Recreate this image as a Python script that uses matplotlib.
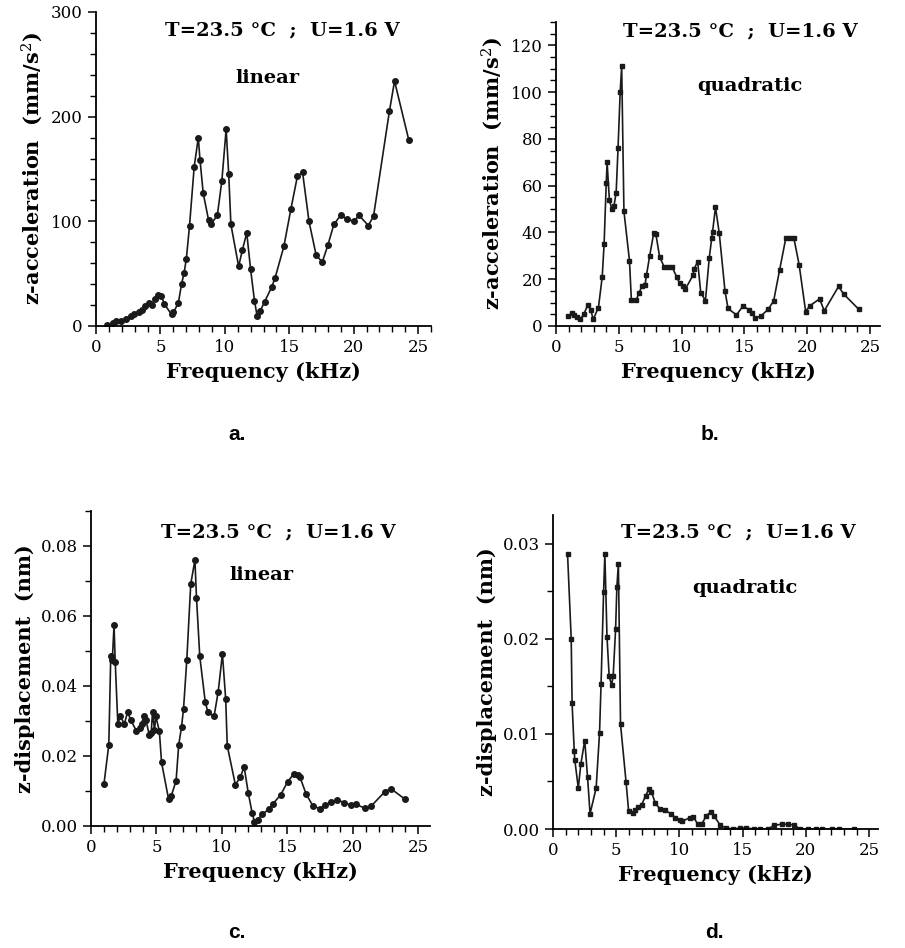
import matplotlib
matplotlib.use("Agg")
import matplotlib.pyplot as plt
from matplotlib.ticker import MultipleLocator

# panel a: z-acceleration, linear
freq_a = [0.85, 1.3, 1.55, 1.93, 2.3, 2.68, 2.93, 3.31, 3.56, 3.81, 4.11, 4.31, 4.56, 4.81, 5.06,
          5.31, 5.86, 6.01, 6.39, 6.64, 6.84, 7.01, 7.26, 7.62, 7.94, 8.07, 8.32, 8.74, 8.92, 9.42,
          9.77, 10.1, 10.3, 10.47, 11.07, 11.37, 11.7, 12.0, 12.3, 12.5, 12.73, 13.08, 13.63, 13.9,
          14.58, 15.13, 15.63, 16.03, 16.53, 17.08, 17.56, 17.99, 18.46, 19.0, 19.5, 20.06, 20.39,
          21.14, 21.54, 22.77, 23.17, 24.27]
acc_lin = [1, 3, 5, 5, 7, 10, 11, 13, 15, 19, 22, 20, 26, 30, 29,
           21, 11, 13, 22, 40, 51, 64, 96, 152, 180, 159, 127, 101, 97, 106,
           139, 188, 145, 97, 57, 73, 89, 54, 24, 10, 14, 23, 37, 46,
           76, 112, 143, 147, 100, 68, 61, 77, 97, 106, 102, 100, 106,
           96, 105, 205, 234, 178]

# panel b: z-acceleration, quadratic
freq_b = [0.99, 1.28, 1.46, 1.65, 1.95, 2.22, 2.52, 2.77, 2.96, 3.38, 3.68, 3.83, 4.0, 4.07, 4.25,
          4.44, 4.62, 4.79, 4.94, 5.11, 5.23, 5.41, 5.85, 6.0, 6.4, 6.6, 6.84, 7.09, 7.2, 7.46,
          7.78, 7.95, 8.25, 8.62, 8.94, 9.26, 9.6, 9.85, 10.1, 10.3, 10.9, 11.0, 11.28, 11.53,
          11.9, 12.2, 12.4, 12.47, 12.7, 13.0, 13.46, 13.7, 14.37, 14.9, 15.36, 15.6, 15.85,
          16.35, 16.9, 17.33, 17.8, 18.3, 18.64, 18.94, 19.36, 19.88, 20.2, 20.99, 21.36, 22.5,
          22.9, 24.1]
acc_quad = [4.4, 5.5, 4.7, 3.7, 3.0, 5.1, 8.9, 6.9, 2.8, 7.9, 21, 35, 61, 70, 54,
            50, 51.5, 57, 76, 100, 111, 49, 28, 11.3, 11.3, 14, 17, 17.6, 21.6, 30,
            39.7, 39.4, 29.6, 25.2, 25.2, 25.2, 21, 18.3, 17.2, 15.8, 21.6, 24.5, 27.5, 14.1,
            10.9, 28.9, 37.6, 40.4, 50.8, 39.7, 14.8, 7.5, 4.7, 8.6, 6.9, 5.5, 3.3,
            4.4, 7.2, 10.7, 23.8, 37.6, 37.6, 37.6, 26.2, 6.2, 8.6, 11.6, 6.5, 16.9,
            13.7, 7.2]

# panel c: z-displacement, linear
freq_c = [0.99, 1.36, 1.51, 1.63, 1.76, 1.85, 2.05, 2.23, 2.55, 2.79, 3.04, 3.46, 3.71, 3.86,
          4.03, 4.2, 4.45, 4.6, 4.7, 4.85, 4.95, 5.22, 5.39, 5.93, 6.13, 6.5, 6.7, 6.92, 7.07,
          7.32, 7.62, 7.94, 8.06, 8.31, 8.73, 8.93, 9.4, 9.72, 10.04, 10.29, 10.41, 11.03, 11.4,
          11.7, 12.02, 12.31, 12.49, 12.73, 13.06, 13.6, 13.87, 14.49, 15.03, 15.48, 15.78,
          15.97, 16.44, 16.96, 17.46, 17.88, 18.37, 18.82, 19.36, 19.86, 20.23, 20.92, 21.41,
          22.45, 22.9, 24.01]
disp_lin = [0.0120, 0.0232, 0.0486, 0.0475, 0.0574, 0.047, 0.0292, 0.0313, 0.0292, 0.0325,
            0.0303, 0.0272, 0.028, 0.0292, 0.0313, 0.0303, 0.026, 0.0266, 0.0327, 0.0274,
            0.0313, 0.0272, 0.0182, 0.0076, 0.0086, 0.0129, 0.0231, 0.0284, 0.0335, 0.0475,
            0.0691, 0.076, 0.0652, 0.0485, 0.0354, 0.0325, 0.0313, 0.0384, 0.0492, 0.0363,
            0.0229, 0.0118, 0.0139, 0.0169, 0.0093, 0.0038, 0.0012, 0.0017, 0.0033, 0.0048,
            0.0062, 0.0089, 0.0127, 0.0148, 0.0146, 0.0139, 0.0091, 0.0057, 0.005, 0.0059,
            0.007, 0.0074, 0.0067, 0.0059, 0.0062, 0.0051, 0.0057, 0.0098, 0.0107, 0.0076]

# panel d: z-displacement, quadratic
freq_d = [1.15, 1.44, 1.51, 1.68, 1.72, 2.0, 2.2, 2.51, 2.73, 2.93, 3.41, 3.68, 3.8, 4.0, 4.1,
          4.27, 4.44, 4.63, 4.76, 4.95, 5.05, 5.17, 5.34, 5.78, 5.98, 6.34, 6.5, 6.76, 7.0,
          7.32, 7.6, 7.78, 8.1, 8.46, 8.83, 9.32, 9.68, 10.05, 10.2, 10.83, 11.1, 11.44, 11.76,
          12.12, 12.49, 12.73, 13.22, 13.7, 14.2, 14.8, 15.3, 15.9, 16.4, 17.0, 17.5, 18.1,
          18.6, 19.07, 19.56, 20.17, 20.78, 21.27, 22.1, 22.6, 23.8]
disp_quad = [0.0289, 0.020, 0.0132, 0.0082, 0.0073, 0.0043, 0.0068, 0.0093, 0.0055, 0.0016,
             0.0043, 0.0101, 0.0152, 0.0249, 0.0289, 0.0202, 0.0161, 0.0151, 0.0161, 0.021,
             0.0254, 0.0279, 0.011, 0.0049, 0.0019, 0.0017, 0.002, 0.0023, 0.0025, 0.0035,
             0.0042, 0.0039, 0.0027, 0.0021, 0.002, 0.0016, 0.0012, 0.0009, 0.0008, 0.0012,
             0.0013, 0.0005, 0.0005, 0.0014, 0.0018, 0.0014, 0.0004, 0.0001, 0.0, 0.0001,
             0.0001, 0.0, 0.0, 0.0, 0.0004, 0.0005, 0.0005, 0.0004, 0.0, 0.0, 0.0, 0.0, 0.0,
             0.0, 0.0]

cond_text = "T=23.5 °C  ;  U=1.6 V"

plt.rcParams["font.family"] = "DejaVu Serif"
plt.rcParams["mathtext.fontset"] = "dejavuserif"

W, H = 905, 948
fig = plt.figure(figsize=(W / 100, H / 100), dpi=100)


def make_axes(left, top, right, bottom):
    return fig.add_axes([left / W, 1 - bottom / H, (right - left) / W, (bottom - top) / H])


def style(ax, xmax, ymax, ymajor, yminor, fmt):
    ax.set_xlim(0, xmax)
    ax.set_ylim(0, ymax)
    for s in ["top", "right"]:
        ax.spines[s].set_visible(False)
    for s in ["left", "bottom"]:
        ax.spines[s].set_linewidth(1.3)
    ax.xaxis.set_major_locator(MultipleLocator(5))
    ax.xaxis.set_minor_locator(MultipleLocator(1))
    ax.yaxis.set_major_locator(MultipleLocator(ymajor))
    ax.yaxis.set_minor_locator(MultipleLocator(yminor))
    ax.yaxis.set_major_formatter(fmt)
    ax.tick_params(which="major", length=6, width=1.1, labelsize=12, direction="out")
    ax.tick_params(which="minor", length=4, width=1.0, direction="out")
    ax.set_xlabel("Frequency (kHz)", fontsize=15, fontweight="bold", labelpad=4)


def notes(ax, cx, cy, label, lx, ly):
    ax.text(cx, cy, cond_text, transform=ax.transAxes, ha="center", va="center",
            fontsize=14, fontweight="bold")
    ax.text(lx, ly, label, transform=ax.transAxes, ha="center", va="center",
            fontsize=14, fontweight="bold")


ax_a = make_axes(96, 12, 431, 326)
ax_b = make_axes(556, 22, 880, 326)
ax_c = make_axes(91, 511, 430, 826)
ax_d = make_axes(553, 515, 878, 829)

line_kw = dict(color="#1a1a1a", lw=1.2)

ax_a.plot(freq_a, acc_lin, marker="o", ms=4, **line_kw)
style(ax_a, 26, 300, 100, 20, "{x:.0f}")
ax_a.set_ylabel("z-acceleration  (mm/s$^2$)", fontsize=15, fontweight="bold")
notes(ax_a, 0.555, 0.94, "linear", 0.513, 0.79)

ax_b.plot(freq_b, acc_quad, marker="s", ms=3.5, **line_kw)
style(ax_b, 25.8, 130, 20, 5, "{x:.0f}")
ax_b.set_ylabel("z-acceleration  (mm/s$^2$)", fontsize=15, fontweight="bold")
notes(ax_b, 0.57, 0.97, "quadratic", 0.6, 0.79)

ax_c.plot(freq_c, disp_lin, marker="o", ms=4, **line_kw)
style(ax_c, 25.9, 0.09, 0.02, 0.01, "{x:.2f}")
ax_c.set_ylabel("z-displacement  (nm)", fontsize=15, fontweight="bold")
notes(ax_c, 0.552, 0.933, "linear", 0.504, 0.797)

ax_d.plot(freq_d, disp_quad, marker="s", ms=3.5, **line_kw)
style(ax_d, 25.7, 0.033, 0.01, 0.005, "{x:.2f}")
ax_d.set_ylabel("z-displacement  (nm)", fontsize=15, fontweight="bold")
notes(ax_d, 0.57, 0.943, "quadratic", 0.59, 0.767)

for lab, x, y in [("a.", 237, 435), ("b.", 710, 435), ("c.", 237, 932), ("d.", 714, 932)]:
    fig.text(x / W, 1 - y / H, lab, ha="center", va="center", fontsize=15,
             fontweight="bold", family="Liberation Sans")

fig.savefig("out.png", dpi=100)
